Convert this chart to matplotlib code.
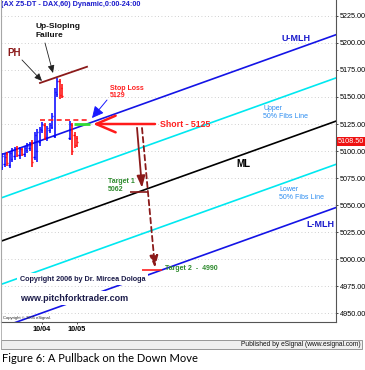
import numpy as np
import matplotlib
matplotlib.use('Agg')
import matplotlib.pyplot as plt
from matplotlib.patches import FancyArrowPatch, Rectangle

# hourly DAX bars (bar number, open, high, low, close)
bar_idx = list(range(25)) + [27, 28, 29, 30]
opens = [5085, 5088, 5097, 5087, 5093, 5095, 5103, 5096, 5102, 5097, 5101, 5103,
         5108, 5094, 5100, 5108, 5119, 5124, 5112, 5119, 5122, 5114, 5153, 5165, 5158,
         5112, 5124, 5115, 5112]
highs = [5098, 5097, 5099, 5100, 5103, 5104, 5105, 5104, 5103, 5105, 5107, 5108,
         5110, 5118, 5120, 5122, 5127, 5126, 5123, 5126, 5135, 5158, 5168, 5167, 5162,
         5128, 5126, 5118, 5114]
lows = [5082, 5085, 5086, 5084, 5090, 5092, 5094, 5093, 5095, 5094, 5098, 5100,
        5085, 5092, 5090, 5105, 5117, 5110, 5109, 5117, 5120, 5112, 5150, 5148, 5149,
        5110, 5096, 5103, 5104]
closes = [5095, 5094, 5089, 5098, 5101, 5102, 5096, 5102, 5097, 5103, 5105, 5106,
          5090, 5115, 5118, 5120, 5125, 5113, 5121, 5124, 5132, 5155, 5165, 5152, 5151,
          5125, 5100, 5106, 5108.5]
date_bars = [16, 30]
date_labels = ['10/04', '10/05']

# pitchfork: median line end points and offsets of the other lines
fork_bars = [-1, 134]
ml_prices = [5016, 5128]
fork_offsets = [80, 40, 0, -40, -80]
fork_colors = ['#1414e6', '#00e8f0', '#000000', '#00e8f0', '#1414e6']

# trade levels
stop_loss = 5129
entry = 5125
target1 = 5062
target2 = 4990
last_price = 5108.50
ph_line_bars = [15.2, 34]
ph_line_prices = [5163, 5178]

yticks = np.arange(4950, 5226, 25)

fig = plt.figure(figsize=(3.65, 3.70), dpi=100)
ax = fig.add_axes([1/365, 1-322/370, 335/365, 322/370])
ax.set_xlim(-0.4, 133.6)
ax.set_ylim(4941.7, 5239.8)

for y in yticks:
    ax.axhline(y, color='#c0c0c0', lw=0.6, ls=(0, (1, 3)), zorder=0)

# pitchfork lines
for off, col in zip(fork_offsets, fork_colors):
    ax.plot(fork_bars, [p + off for p in ml_prices], color=col, lw=1.2, zorder=2)

# OHLC bars
for i, o, h, l, c in zip(bar_idx, opens, highs, lows, closes):
    col = '#0000ff' if c >= o else '#ff0000'
    ax.vlines(i, l, h, color=col, lw=1.1, zorder=3)
    ax.hlines(o, i - 0.5, i, color=col, lw=1.0, zorder=3)
    ax.hlines(c, i, i + 0.5, color=col, lw=1.0, zorder=3)

# PH up-sloping line
ax.plot(ph_line_bars, ph_line_prices, color='#8b1a1a', lw=1.3, zorder=4)

# stop and entry lines
ax.hlines(stop_loss, 15.2, 35.2, color='#ff2020', lw=1.2, ls=(0, (3, 2)), zorder=4)
ax.hlines(entry, 28.8, 35.2, color='#33dd33', lw=2.0, zorder=4)
ax.hlines(target1, 51.2, 58.4, color='#8b1a1a', lw=1.2, zorder=4)
ax.hlines(target2, 56, 64, color='#ff2020', lw=1.2, zorder=4)

def arrow(x0, y0, x1, y1, **kw):
    ax.add_patch(FancyArrowPatch((x0, y0), (x1, y1), shrinkA=0, shrinkB=0, **kw))

arrow(61.2, entry, 36.4, entry, arrowstyle='->,head_length=1.4,head_width=0.6',
      mutation_scale=10, color='#ff1a1a', lw=1.8, zorder=6)
arrow(54, 5121.5, 56, target1 + 4, arrowstyle='-|>,head_length=0.7,head_width=0.25',
      mutation_scale=10, color='#8b1a1a', lw=1.3, zorder=6)
arrow(56, 5121.3, 61.2, target2 + 2, arrowstyle='-|>,head_length=0.7,head_width=0.25',
      mutation_scale=10, color='#8b1a1a', lw=1.3, ls=(0, (3, 2)), zorder=6)
arrow(42, 5147.2, 36, 5130.5, arrowstyle='-|>,head_length=0.7,head_width=0.35',
      mutation_scale=10, color='#1a1aff', lw=0.7, zorder=6)
arrow(8, 5184.3, 16, 5164.8, arrowstyle='-|>,head_length=0.45,head_width=0.2',
      mutation_scale=10, color='#222222', lw=0.6, zorder=6)
arrow(17.2, 5200, 20.4, 5172.2, arrowstyle='-|>,head_length=0.45,head_width=0.2',
      mutation_scale=10, color='#222222', lw=0.6, zorder=6)

f = 'Liberation Sans'
ax.text(0, 1 - 5/322, '(AX Z5-DT - DAX,60) Dynamic,0:00-24:00', transform=ax.transAxes,
        ha='left', va='center', fontsize=5.2, fontweight='bold', color='#1a1acc', family=f)
ax.text(2, 5190.7, 'PH', color='#8b1a1a', fontsize=7, fontweight='bold', family=f, va='center')
ax.text(13.2, 5215.7, 'Up-Sloping', color='#111111', fontsize=6, fontweight='bold', family=f, va='center')
ax.text(13.2, 5206.5, 'Failure', color='#111111', fontsize=6, fontweight='bold', family=f, va='center')
ax.text(43.2, 5158.3, 'Stop Loss', color='#ff2020', fontsize=5, fontweight='bold', family=f, va='center')
ax.text(43.2, 5151, str(stop_loss), color='#ff2020', fontsize=5, fontweight='bold', family=f, va='center')
ax.text(63.2, entry, 'Short - %d' % entry, color='#ff2020', fontsize=6.3, fontweight='bold',
        family=f, va='center')
ax.text(42.4, 5072.2, 'Target 1', color='#2e8b2e', fontsize=5, fontweight='bold', family=f, va='center')
ax.text(42.4, 5064.8, str(target1), color='#2e8b2e', fontsize=5, fontweight='bold', family=f, va='center')
ax.text(65.2, target2 + 1, 'Target 2  -  %d' % target2, color='#2e8b2e', fontsize=5,
        fontweight='bold', family=f, va='center')
ax.text(117.6, 5203.7, 'U-MLH', color='#1a1acc', fontsize=6.5, fontweight='bold', family=f,
        ha='center', va='center')
ax.text(104.4, 5139.8, 'Upper', color='#2b8cf0', fontsize=5, family=f, va='center')
ax.text(104.4, 5132.4, '50% Fibs Line', color='#2b8cf0', fontsize=5, family=f, va='center')
ax.text(96.4, 5088, 'ML', color='#000000', fontsize=7, fontweight='bold', family=f,
        ha='center', va='center')
ax.text(110.8, 5064, 'Lower', color='#2b8cf0', fontsize=5, family=f, va='center')
ax.text(110.8, 5056.5, '50% Fibs Line', color='#2b8cf0', fontsize=5, family=f, va='center')
ax.text(127.2, 5032.4, 'L-MLH', color='#1a1acc', fontsize=6.5, fontweight='bold', family=f,
        ha='center', va='center')
ax.text(7.2, 4981.5, 'Copyright 2006 by Dr. Mircea Dologa', color='#1c1c4a', fontsize=5.2,
        fontweight='bold', family=f, va='center', zorder=5,
        bbox=dict(facecolor='white', edgecolor='none', pad=2))
ax.text(7.2, 4963.9, 'www.pitchforktrader.com', color='#1c1c4a', fontsize=6.5,
        fontweight='bold', family=f, va='center', zorder=5,
        bbox=dict(facecolor='white', edgecolor='none', pad=2))
ax.text(0.4, 4945.4, 'Copyright \u00a9 2005 eSignal.', color='#222222', fontsize=3,
        family=f, va='center', zorder=5)

# last price tag
ax.text(1.006, last_price, '%.2f' % last_price, transform=ax.get_yaxis_transform(),
        ha='left', va='center', fontsize=5.2, color='white', family=f,
        bbox=dict(facecolor='#ee1111', edgecolor='none', pad=0.8), clip_on=False)

ax.yaxis.tick_right()
ax.set_yticks(yticks)
ax.set_yticklabels(['%.2f' % v for v in yticks], fontsize=5.2, family=f)
ax.tick_params(axis='y', length=1.5, width=0.5, pad=1.5)
ax.set_xticks(date_bars)
ax.set_xticklabels(date_labels, fontsize=5.3, fontweight='bold', family=f)
ax.tick_params(axis='x', length=1.5, width=0.5, pad=1.5)
ax.spines['top'].set_visible(False)
ax.spines['left'].set_color('#999999')
for s in ['right', 'bottom']:
    ax.spines[s].set_color('#555555')
    ax.spines[s].set_linewidth(0.8)

# bottom band of the eSignal window
fig.patches.append(Rectangle((1/365, 1-349/370), 361/365, 9/370, transform=fig.transFigure,
                             facecolor='#efefef', edgecolor='#888888', lw=0.6))
fig.patches.append(Rectangle((0.5/365, 1-349/370), 0.0001, 349/370, transform=fig.transFigure,
                             facecolor='none', edgecolor='#aaaaaa', lw=0.6))
fig.text(361/365, 1-345/370, 'Published by eSignal (www.esignal.com)', ha='right',
         va='center', fontsize=4.8, family=f, color='#111111')
fig.text(2/365, 1-358/370, 'Figure 6: A Pullback on the Down Move', ha='left', va='center',
         fontsize=8, family='Lato', color='#000000')

fig.savefig('out.png', dpi=100)
